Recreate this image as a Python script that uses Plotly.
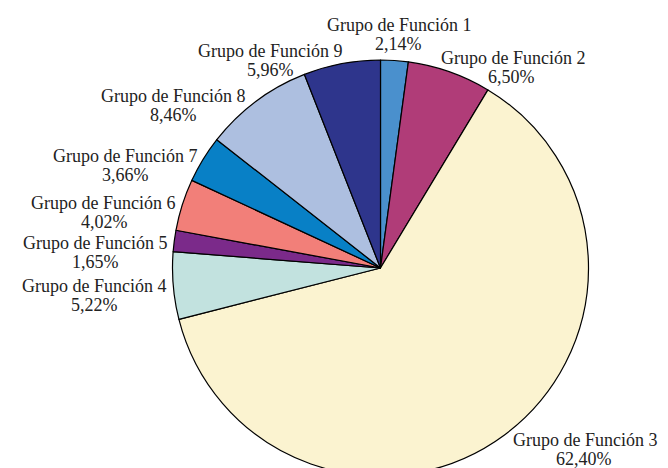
import math
import plotly.graph_objects as go

grupos = ["Grupo de Función 1", "Grupo de Función 2", "Grupo de Función 3",
          "Grupo de Función 4", "Grupo de Función 5", "Grupo de Función 6",
          "Grupo de Función 7", "Grupo de Función 8", "Grupo de Función 9"]
porcentajes = [2.14, 6.50, 62.40, 5.22, 1.65, 4.02, 3.66, 8.46, 5.96]
colores = ["#4A90CD", "#B03C78", "#FBF3D0", "#C2E2DF", "#7B2A8A",
           "#F27F79", "#0880C6", "#ADBFE0", "#2E358C"]

W, H = 668, 468
ml, mr, mt, mb = 164, 87, 52, 0
pw, ph = W - ml - mr, H - mt - mb
radio = min(pw, ph) / 2
cx, cy = ml + pw / 2, mt + ph / 2
interlinea = 19
fuente = dict(family="Liberation Serif", size=18, color="#222222")
# pequenos desplazamientos (px) de algunas etiquetas, como en el original
ajustes = {0: (4, 0), 1: (-12, -8), 2: (4, 0), 4: (0, 3), 7: (-7, 0), 8: (2, -7)}

fig = go.Figure(go.Pie(
    labels=grupos,
    values=porcentajes,
    sort=False,
    direction="clockwise",
    rotation=0,
    marker=dict(colors=colores, line=dict(color="#000000", width=1.2)),
    textinfo="none",
    hoverinfo="label+percent",
    showlegend=False,
))


def a_papel(px, py):
    return (px - ml) / pw, 1 - (py - mt) / ph


# etiquetas fuera del pastel, ancladas segun el angulo medio de cada sector
total = sum(porcentajes)
acum = 0
anotaciones = []
for i, (nombre, valor) in enumerate(zip(grupos, porcentajes)):
    medio = (acum + valor / 2) / total * 2 * math.pi
    acum += valor
    s, c = math.sin(medio), math.cos(medio)
    dx, dy = ajustes.get(i, (0, 0))
    px = cx + radio * 1.03 * s + dx
    py = cy - radio * 1.03 * c + dy
    if abs(s) < 0.1:
        xa = "center"
        if c > 0:
            y1, y2 = py - 10 - interlinea, py - 10
        else:
            y1, y2 = py + 10, py + 10 + interlinea
    else:
        xa = "left" if s > 0 else "right"
        y1, y2 = py, py + interlinea
    pct = f"{valor:.2f}%".replace(".", ",")
    # segunda linea centrada bajo la primera
    ancho = 8.03 * fuente["size"]
    if xa == "left":
        px2 = px + ancho / 2
    elif xa == "right":
        px2 = px - ancho / 2
    else:
        px2 = px
    for texto, xx, yy, anc in ((nombre, px, y1, xa), (pct, px2, y2, "center")):
        xp, yp = a_papel(xx, yy)
        anotaciones.append(dict(
            x=xp, y=yp, xref="paper", yref="paper",
            text=texto, showarrow=False,
            xanchor=anc, yanchor="middle",
            font=fuente, borderpad=0,
        ))

fig.update_layout(
    width=W, height=H,
    margin=dict(l=ml, r=mr, t=mt, b=mb),
    paper_bgcolor="white",
    plot_bgcolor="white",
    annotations=anotaciones,
)

fig.write_html("out.html")
